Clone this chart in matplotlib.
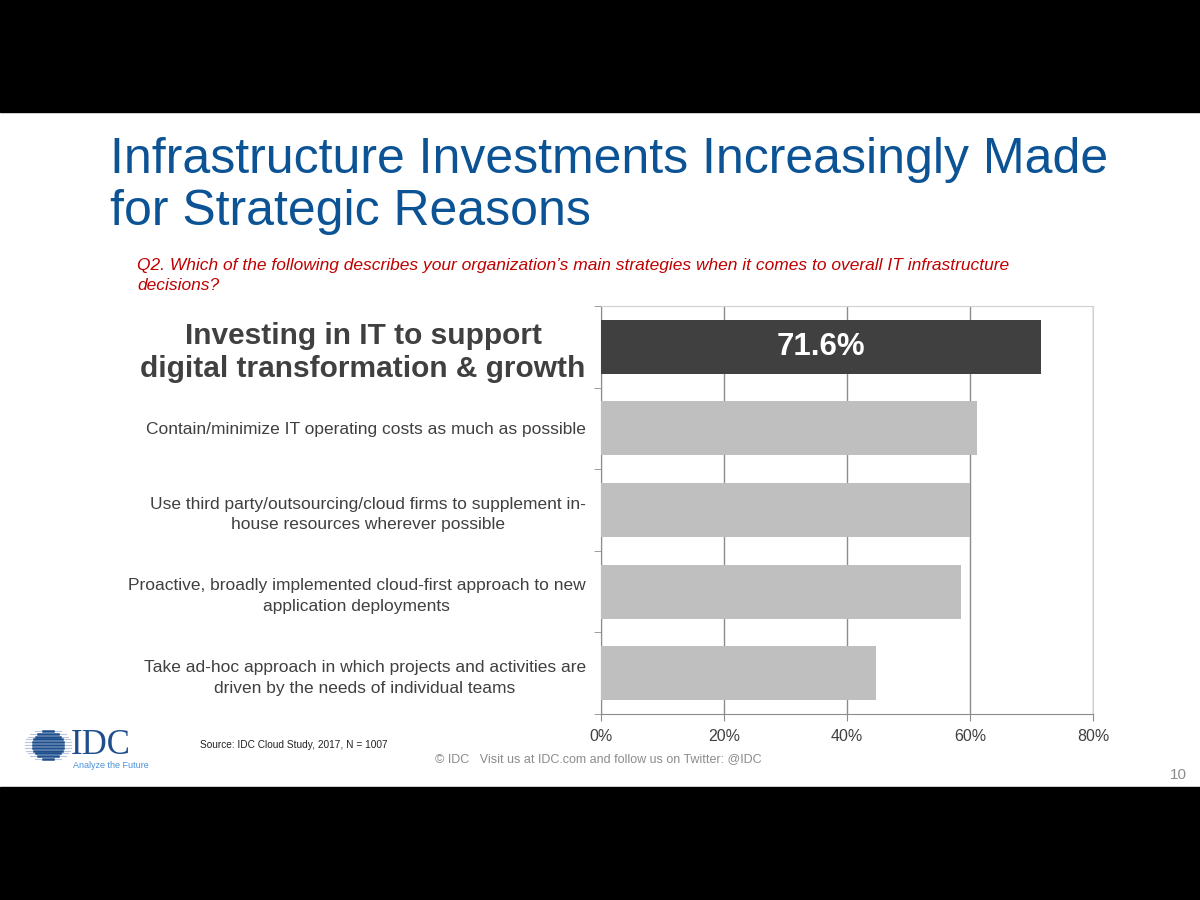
import matplotlib
matplotlib.use("Agg")
import matplotlib.pyplot as plt
from matplotlib.patches import Rectangle
import numpy as np

plt.rcParams['font.family'] = ['Liberation Sans', 'DejaVu Sans']

categories = [
    "Investing in IT to support\ndigital transformation & growth",
    "Contain/minimize IT operating costs as much as possible",
    "Use third party/outsourcing/cloud firms to supplement in-\nhouse resources wherever possible",
    "Proactive, broadly implemented cloud-first approach to new\napplication deployments",
    "Take ad-hoc approach in which projects and activities are\ndriven by the needs of individual teams",
]
values = [71.6, 61.1, 60.0, 58.6, 44.7]
xticks = [0, 20, 40, 60, 80]
xtick_labels = ["0%", "20%", "40%", "60%", "80%"]
highlight_label = "71.6%"

fig = plt.figure(figsize=(12, 9), dpi=100)
fig.patch.set_facecolor('white')

# black bands
fig.add_artist(Rectangle((0, 1 - 112/900), 1, 112/900, transform=fig.transFigure, color='black', zorder=0))
fig.add_artist(Rectangle((0, 0), 1, 113/900, transform=fig.transFigure, color='black', zorder=0))

ax = fig.add_axes([601/1200, 1 - 714/900, (1093-601)/1200, (714-306)/900])
y = np.arange(len(categories))
colors = ['#404040'] + ['#BFBFBF'] * (len(categories) - 1)
ax.barh(y, values, height=0.66, color=colors, zorder=3)
ax.set_ylim(len(categories) - 0.5, -0.5)
ax.set_xlim(0, 80)
ax.set_xticks(xticks)
ax.set_xticklabels(xtick_labels, fontsize=11.5, color='#404040')
ax.xaxis.grid(True, color='#8C8C8C', linewidth=1, zorder=0)
ax.set_axisbelow(True)

ax.set_yticks(y)
ax.set_yticklabels(categories)
ax.tick_params(axis='y', which='major', length=0, pad=11)
ax.set_yticks(np.arange(-0.5, len(categories), 1), minor=True)
ax.tick_params(axis='y', which='minor', length=5, color='#8C8C8C', direction='out')
ax.tick_params(axis='x', length=5, color='#8C8C8C', pad=6)
for i, lbl in enumerate(ax.get_yticklabels()):
    lbl.set_multialignment('center')
    lbl.set_color('#404040')
    if i == 0:
        lbl.set_fontsize(21.5)
        lbl.set_fontweight('bold')
        lbl.set_linespacing(1.25)
    else:
        lbl.set_fontsize(12.5)
        lbl.set_linespacing(1.5)

for s in ['left', 'bottom']:
    ax.spines[s].set_color('#8C8C8C')
for s in ['top', 'right']:
    ax.spines[s].set_color('#D0D0D0')

ax.text(values[0] / 2, 0, highlight_label, ha='center', va='center',
        color='white', fontsize=22.5, fontweight='bold', zorder=4)

# title
fig.text(110/1200, 1 - 160/900, "Infrastructure Investments Increasingly Made",
         fontsize=36, color='#0B5394', ha='left', va='center')
fig.text(110/1200, 1 - 212/900, "for Strategic Reasons",
         fontsize=36, color='#0B5394', ha='left', va='center')

# question
fig.text(137/1200, 1 - 265/900,
         "Q2. Which of the following describes your organization\u2019s main strategies when it comes to overall IT infrastructure",
         fontsize=12.5, color='#C00000', style='italic', ha='left', va='center')
fig.text(137/1200, 1 - 286/900, "decisions?",
         fontsize=12.5, color='#C00000', style='italic', ha='left', va='center')

# source & footer
fig.text(200/1200, 1 - 745/900, "Source: IDC Cloud Study, 2017, N = 1007", fontsize=7.3, color='#222222', va='center')
fig.text(435/1200, 1 - 759/900, "\u00a9 IDC   Visit us at IDC.com and follow us on Twitter: @IDC",
         fontsize=9, color='#8C8C8C', va='center')
fig.text(1170/1200, 1 - 775/900, "10", fontsize=11, color='#8C8C8C', va='center', ha='left')

# logo
cx, cy, r = 48, 745, 15
for k in range(-5, 6):
    yy = cy + k * 2.8
    half = np.sqrt(max(r**2 - (k*2.8)**2, 0))
    fig.add_artist(plt.Line2D([(cx - half - 8)/1200, (cx + half + 8)/1200], [1 - yy/900, 1 - yy/900],
                              transform=fig.transFigure, color='#B8C7DD', linewidth=0.8))
    fig.add_artist(plt.Line2D([(cx - half)/1200, (cx + half)/1200], [1 - yy/900, 1 - yy/900],
                              transform=fig.transFigure, color='#1F4E8C', linewidth=1.8))
fig.text(71/1200, 1 - 745/900, "IDC", fontfamily='Liberation Serif', fontsize=25, color='#1F4E8C', va='center')
fig.text(73/1200, 1 - 766/900, "Analyze the Future", fontsize=6.5, color='#4A90D9', va='center')

fig.savefig("out.png", dpi=100, facecolor='white')
